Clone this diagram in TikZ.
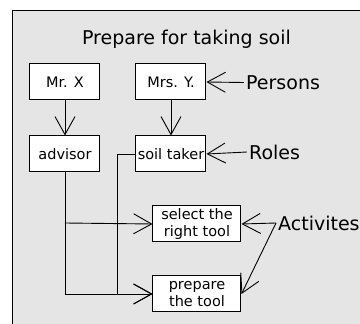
\documentclass[tikz,border=0pt]{standalone}
\usepackage{fontspec}
\setmainfont{DejaVu Sans}
\usetikzlibrary{arrows.meta}
\definecolor{panel}{RGB}{229,229,229}
\tikzset{
  box/.style={draw=black, fill=white, line width=1pt, inner sep=0pt, minimum width=70pt, minimum height=36pt, font=\fontsize{14.5}{17.5}\selectfont},
  actbox/.style={box, minimum width=88pt, align=center},
  lbl/.style={font=\fontsize{19}{22}\selectfont, inner sep=2pt, anchor=west},
  conn/.style={line width=0.9pt, -{Straight Barb[length=18pt,width=20pt,line width=0.9pt]}},
  plain/.style={line width=0.9pt}
}
\begin{document}
\begin{tikzpicture}[x=1pt,y=-1pt]
\useasboundingbox (0,0) rectangle (360,324);
\fill[white] (0,0) rectangle (360,324);
\fill[panel] (13,11) rectangle (362,326);
\draw[line width=1pt] (13,326) -- (13,11) -- (362,11);
\node[font=\fontsize{19}{22}\selectfont, anchor=base, inner sep=0pt] (title) at (186.5,45) {Prepare for taking soil};
\node[box] (mrx) at (65,82) {Mr. X};
\node[box] (mrsy) at (171,82) {Mrs. Y.};
\node[box] (advisor) at (65,154) {advisor};
\node[box] (soil) at (171,154) {soil taker};
\node[actbox] (select) at (197,224) {select the\\right tool};
\node[actbox] (prepare) at (197,294) {prepare\\the tool};
\node[lbl] (persons) at (244,82.5) {Persons};
\node[lbl] (roles) at (247,152) {Roles};
\node[lbl] (activites) at (276,223) {Activites};
\coordinate (split) at (65,223);
\coordinate (bend) at (117,154);
\draw[conn] (mrx) -- (advisor);
\draw[conn] (mrsy) -- (soil);
\draw[conn] (persons.west) -- (mrsy.east);
\draw[conn] (roles.west) -- (soil.east);
\draw[conn] (advisor.south) |- (prepare.west);
\draw[conn] (split) -- (select.west);
\draw[plain] (soil.west) -- (bend);
\draw[conn] (bend) |- (prepare.west);
\draw[conn] (activites.west) -- (select.east);
\draw[conn] (activites.west) -- (prepare.east);
\end{tikzpicture}
\end{document}
